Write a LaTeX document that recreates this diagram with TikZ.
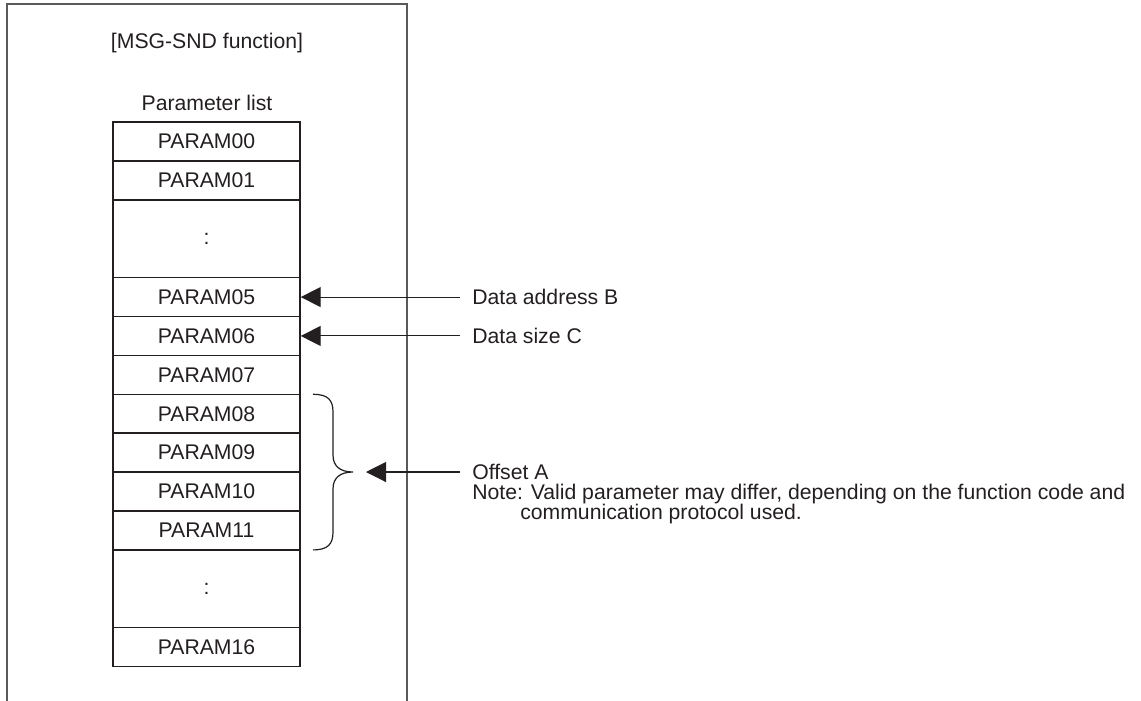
\documentclass[tikz,border=0pt]{standalone}
\usepackage{fontspec}
\setmainfont{Liberation Sans}
\usetikzlibrary{arrows.meta}
\definecolor{ink}{HTML}{231F20}
\definecolor{frame}{HTML}{5A5A5A}
\begin{document}
\begin{tikzpicture}[x=0.75pt,y=-0.75pt,
  every node/.style={font=\fontsize{15.9pt}{15pt}\selectfont, text=ink},
  row/.style={draw=ink, line width=1.1pt, minimum width=140.25pt, minimum height=29.2pt, inner sep=0pt},
  tall/.style={row, minimum height=58.4pt},
  lbl/.style={anchor=west, inner sep=0pt},
  arr/.style={draw=ink, line width=0.8pt, -{Triangle[length=15pt,width=15pt]}}]
\useasboundingbox (0,0) rectangle (1141,700);
% outer frame (open at bottom, cropped)
\draw[frame, line width=1.4pt] (7,702) -- (7,4) -- (407,4) -- (407,702);
\node (title) at (207,43) {[MSG-SND function]};
\node (plist) at (207,103) {Parameter list};
% parameter rows
\node[row]  (p00) at (206.5,141.45) {PARAM00};
\node[row]  (p01) at (206.5,180.35) {PARAM01};
\node[tall] (e1)  at (206.5,238.7)  {:};
\node[row]  (p05) at (206.5,297.05) {PARAM05};
\node[row]  (p06) at (206.5,335.95) {PARAM06};
\node[row]  (p07) at (206.5,374.85) {PARAM07};
\node[row]  (p08) at (206.5,413.75) {PARAM08};
\node[row]  (p09) at (206.5,452.65) {PARAM09};
\node[row]  (p10) at (206.5,491.55) {PARAM10};
\node[row]  (p11) at (206.5,530.45) {PARAM11};
\node[tall] (e2)  at (206.5,588.8)  {:};
\node[row]  (p16) at (206.5,647.15) {PARAM16};
% labels
\node[lbl] (lb) at (472,297) {Data address B};
\node[lbl] (lc) at (472,336) {Data size C};
\node[anchor=base west, inner sep=0pt, align=left] (la) at (472,519.5)
  {Offset A\\Note: Valid parameter may differ, depending on the function code and\\
   \hspace*{36pt}communication protocol used.};
% connector start points
\coordinate (cb) at (460,297.05);
\coordinate (cc) at (460,335.95);
\coordinate (ca) at (460,472);
\coordinate (btip) at (366,472);
% brace
\draw[ink, line width=0.9pt] (313,394.3) .. controls (328,394.3) and (333,400) .. (333,412)
  -- (333,455) .. controls (333,466) and (340,472) .. (353,472)
  .. controls (340,472) and (333,478) .. (333,489)
  -- (333,532) .. controls (333,544) and (328,549.9) .. (313,549.9);
% arrows
\draw[arr] (cb) -- (p05.east);
\draw[arr] (cc) -- (p06.east);
\draw[arr] (ca) -- (btip);
\end{tikzpicture}
\end{document}
